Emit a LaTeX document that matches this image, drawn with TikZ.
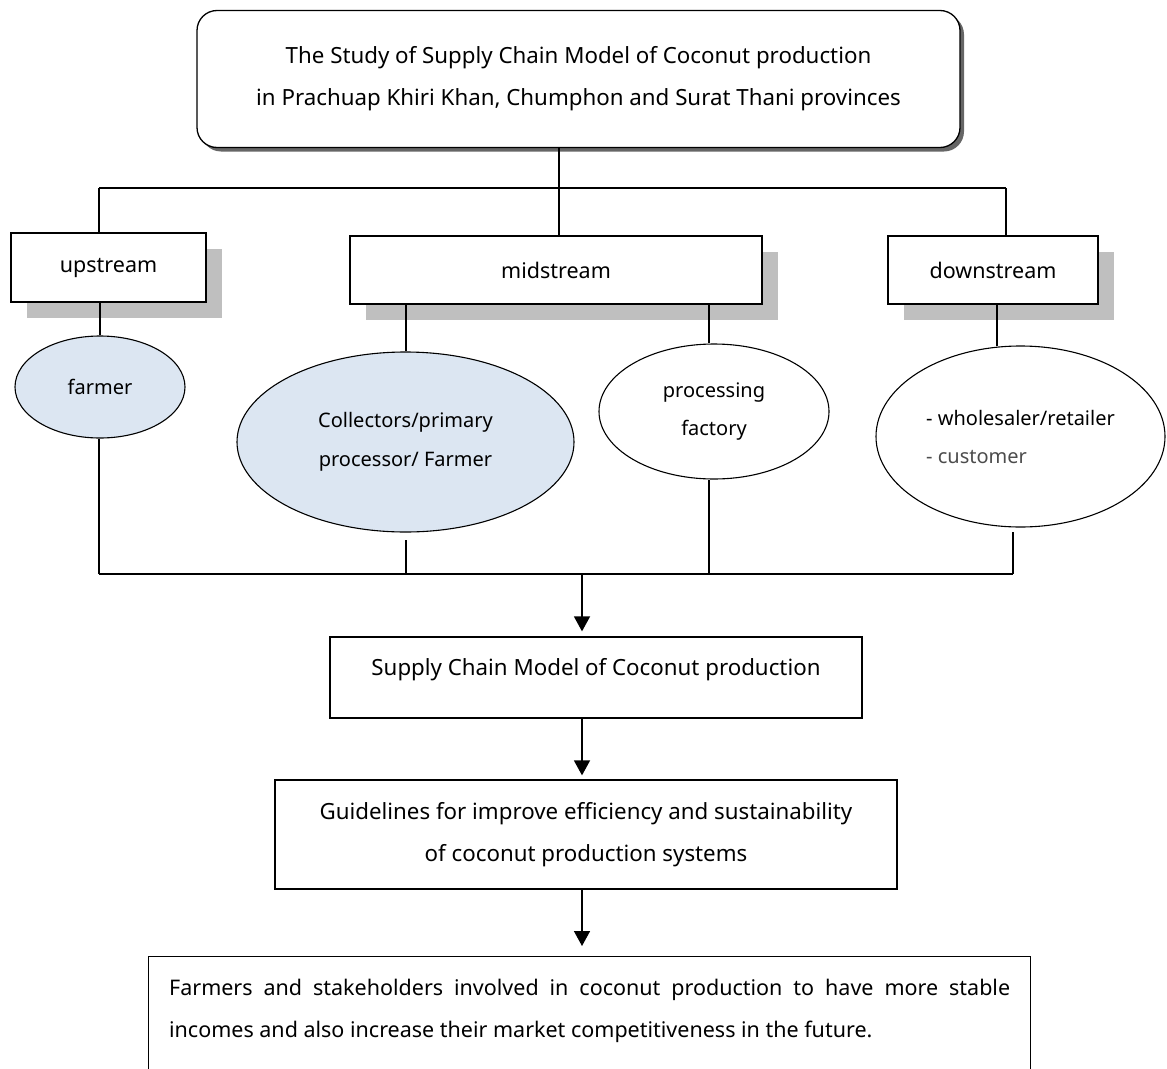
\documentclass[tikz,border=0pt]{standalone}
\usepackage{fontspec}
\setmainfont{Noto Sans}
\usetikzlibrary{shapes.geometric,arrows.meta,shadows}
\definecolor{paleblue}{HTML}{DCE6F2}

\tikzset{
  box/.style={draw, line width=1.3pt, fill=white, inner sep=0pt, align=center},
  greyshadow/.style={drop shadow={shadow xshift=16pt, shadow yshift=-16pt, fill=black!25, opacity=1}},
  stream/.style={box, greyshadow, font=\fontsize{21.5}{42}\selectfont},
  oval/.style={draw, ellipse, line width=1.1pt, inner sep=0pt, align=center},
  link/.style={line width=1.3pt},
  flow/.style={line width=1.6pt, -{Triangle[width=16pt,length=15pt]}},
}

\begin{document}
\begin{tikzpicture}[x=1pt, y=-1pt, font=\fontsize{22.3}{42}\selectfont]
  \useasboundingbox (0,0) rectangle (1167,1068);

  % title
  \node[box, rounded corners=20pt, minimum width=763pt, minimum height=137pt,
        drop shadow={shadow xshift=4pt, shadow yshift=-4pt, fill=black!60, opacity=1}]
        (top) at (578.5,79)
        {The Study of Supply Chain Model of Coconut production\\
         in Prachuap Khiri Khan, Chumphon and Surat Thani provinces};

  % stream boxes
  \node[stream, minimum width=195pt, minimum height=69pt] (up) at (108.5,267.5) {upstream};
  \node[stream, minimum width=412pt, minimum height=68pt] (mid) at (556,270) {midstream};
  \node[stream, minimum width=210pt, minimum height=68pt] (down) at (993,270) {downstream};

  % actors
  \node[oval, fill=paleblue, minimum width=170pt, minimum height=102pt,
        font=\fontsize{20}{39}\selectfont] (farmer) at (100,387) {farmer};
  \node[oval, fill=paleblue, minimum width=337pt, minimum height=180pt,
        font=\fontsize{20}{39}\selectfont] (collector) at (405.5,442)
        {Collectors/primary\\processor/ Farmer};
  \node[oval, minimum width=230pt, minimum height=135pt,
        font=\fontsize{20}{38}\selectfont] (factory) at (714,411.5)
        {processing\\factory};
  \node[oval, minimum width=289pt, minimum height=181pt, align=left,
        font=\fontsize{20}{38}\selectfont] (seller) at (1020.5,436.5)
        {- wholesaler/retailer\\\textcolor{black!70}{- customer}};

  % results
  \node[box, minimum width=532pt, minimum height=81pt, text depth=21pt] (model) at (596,677.5)
        {Supply Chain Model of Coconut production};
  \node[box, minimum width=622pt, minimum height=109pt] (guide) at (586,834.5)
        {Guidelines for improve efficiency and sustainability\\
         of coconut production systems};
  \node[box, anchor=north west, text width=841pt, inner xsep=20.5pt, inner ysep=22pt,
        align=justify, font=\fontsize{21.5}{42}\selectfont] (result) at (148,956)
        {Farmers and stakeholders involved in coconut production to have more stable\linebreak
         incomes and also increase their market competitiveness in the future.\rule[-60pt]{0pt}{60pt}};

  % upper tree
  \coordinate (b1) at (99,188);
  \coordinate (b2) at (559,188);
  \coordinate (b3) at (1006,188);
  \draw[link] (b1) -- (b3);
  \draw[link] (b2) -- (b2 |- top.south);
  \foreach \j/\n in {b1/up, b2/mid, b3/down} {
    \draw[link] (\j) -- (\j |- \n.north);
  }

  % boxes to actors
  \coordinate (c1) at (406,304);
  \coordinate (c2) at (709,304);
  \coordinate (c3) at (997,304);
  \draw[link] (farmer.north) -- (farmer.north |- up.south);
  \draw[link] (c1) -- (c1 |- collector.north);
  \draw[link] (c2) -- (c2 |- factory.north);
  \draw[link] (c3) -- ++(0,42);

  % lower bus
  \coordinate (d0) at (99,574);
  \coordinate (d1) at (406,574);
  \coordinate (d2) at (709,574);
  \coordinate (d3) at (1013,574);
  \coordinate (a1) at (582,574);
  \draw[link] (d0) -- (d3);
  \draw[link] (d0) -- (d0 |- farmer.south);
  \draw[link] (d1) -- ++(0,-34);
  \draw[link] (d2) -- (d2 |- factory.south);
  \draw[link] (d3) -- ++(0,-42);

  % flow
  \draw[flow, shorten >=5pt] (a1) -- (a1 |- model.north);
  \draw[flow, shorten >=4pt] (a1 |- model.south) -- (a1 |- guide.north);
  \draw[flow, shorten >=10pt] (a1 |- guide.south) -- (a1 |- result.north);
\end{tikzpicture}
\end{document}
